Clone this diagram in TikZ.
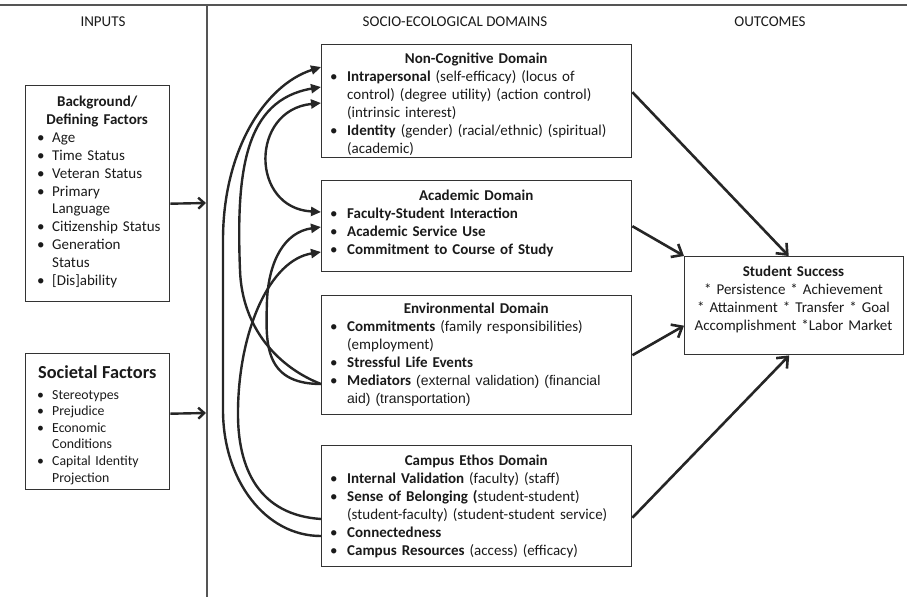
\documentclass[tikz,border=0pt]{standalone}
\usepackage{fontspec}
\setmainfont{Carlito}
\newfontfamily\arialfont{Liberation Sans}
\usetikzlibrary{arrows.meta,calc}
\definecolor{linec}{HTML}{262626}
\definecolor{boxc}{HTML}{333333}
\definecolor{txtc}{HTML}{1A1A1A}
\definecolor{rulec}{HTML}{555555}
\newcommand{\bul}{\hspace*{9pt}\makebox[17pt][l]{•}}
\newcommand{\cont}{\hspace*{26pt}}
\newcommand{\bulL}{\hspace*{12pt}\makebox[15pt][l]{•}}
\newcommand{\contL}{\hspace*{27pt}}
\begin{document}
\begin{tikzpicture}[x=1pt,y=-1pt,
  box/.style={draw=boxc, line width=1.4pt, inner sep=0pt, anchor=north west},
  txt/.style={anchor=base west, inner sep=0pt, align=left, text=txtc,
              font=\fontsize{15}{17.9}\selectfont},
  head/.style={anchor=base, inner sep=0pt, text=txtc, font=\fontsize{15}{17}\selectfont},
  curve/.style={draw=linec, line width=2.4pt, -{Triangle[length=10pt,width=9pt]}},
  dcurve/.style={draw=linec, line width=2.4pt, {Triangle[length=10pt,width=9pt]}-{Triangle[length=10pt,width=9pt]}},
  outarrow/.style={draw=linec, line width=2.6pt, -{Straight Barb[length=9pt,width=15pt]}},
  inarrow/.style={draw=linec, line width=2.4pt, -{Straight Barb[length=6pt,width=11pt]}}]
\useasboundingbox (0,0) rectangle (907,597);

% rules
\draw[rulec, line width=1.8pt] (0,5) -- (907,5);
\draw[rulec, line width=1.2pt] (207,5) -- (207,597);

% headers
\node[head] (hin) at (103,26) {INPUTS};
\node[head] (hdom) at (455,26) {SOCIO-ECOLOGICAL DOMAINS};
\node[head] (hout) at (770,26) {OUTCOMES};

% input boxes
\node[box, minimum width=144pt, minimum height=216pt] (bg) at (25,85) {};
\node[txt, text width=144pt] (bgT) at (25,106.5) {%
\makebox[144pt][c]{\bfseries Background/}\\
\makebox[144pt][c]{\bfseries Defining Factors}\\
\bulL Age\\
\bulL Time Status\\
\bulL Veteran Status\\
\bulL Primary\\
\contL Language\\
\bulL Citizenship Status\\
\bulL Generation\\
\contL Status\\
\bulL [Dis]ability};

\node[box, minimum width=144pt, minimum height=136pt] (soc) at (25,353) {};
\node[txt, text width=144pt, font=\fontsize{13.8}{16.6}\selectfont] (socT) at (25,378) {%
\makebox[144pt][c]{\fontsize{18.3}{20}\selectfont\bfseries Societal Factors}\\[4.4pt]
\bulL Stereotypes\\
\bulL Prejudice\\
\bulL Economic\\
\contL Conditions\\
\bulL Capital Identity\\
\contL Projection};

% domain boxes
\node[box, minimum width=310pt, minimum height=113pt] (noncog) at (321,44) {};
\node[txt, text width=310pt] (noncogT) at (321,63.8) {%
\makebox[310pt][c]{\bfseries Non-Cognitive Domain}\\
\bul\textbf{Intrapersonal} (self-efficacy) (locus of\\
\cont control) (degree utility) (action control)\\
\cont (intrinsic interest)\\
\bul\textbf{Identity} (gender) (racial/ethnic) (spiritual)\\
\cont (academic)};

\node[box, minimum width=310pt, minimum height=91pt] (acad) at (321,180) {};
\node[txt, text width=310pt] (acadT) at (321,200.8) {%
\makebox[310pt][c]{\bfseries Academic Domain}\\
\bul\textbf{Faculty-Student Interaction}\\
\bul\textbf{Academic Service Use}\\
\bul\textbf{Commitment to Course of Study}};

\node[box, minimum width=310pt, minimum height=119pt] (env) at (321,295) {};
\node[txt, text width=310pt] (envT) at (321,313.8) {%
\makebox[310pt][c]{\bfseries Environmental Domain}\\
\bul\textbf{Commitments} (family responsibilities)\\
\cont (employment)\\
\bul\textbf{Stressful Life Events}\\
\bul\textbf{Mediators}{\arialfont\fontsize{14}{17.9}\selectfont\ (external validation) (financial}\\
\cont{\arialfont\fontsize{14}{17.9}\selectfont aid) (transportation)}};

\node[box, minimum width=310pt, minimum height=121pt] (campus) at (321,445) {};
\node[txt, text width=310pt] (campusT) at (321,465.8) {%
\makebox[310pt][c]{\bfseries Campus Ethos Domain}\\
\bul\textbf{Internal Validation} (faculty) (staff)\\
\bul\textbf{Sense of Belonging (}student-student)\\
\cont (student-faculty) (student-student service)\\
\bul\textbf{Connectedness}\\
\bul\textbf{Campus Resources} (access) (efficacy)};

% outcome box
\node[box, minimum width=219pt, minimum height=98pt] (succ) at (684,256) {};
\node[txt, anchor=base, text width=219pt, align=center] (succT) at (793.5,276.8) {%
\textbf{Student Success}\\
{}* Persistence * Achievement\\
{}* Attainment * Transfer * Goal\\
{}Accomplishment *Labor Market};

% input arrows
\coordinate (in1) at (206,203);
\coordinate (in2) at (206,413);
\draw[inarrow] ([yshift=-10pt]bg.east) -- (in1);
\draw[inarrow] ([yshift=8pt]soc.east) -- (in2);

% outcome arrows
\draw[outarrow] ([yshift=9pt]noncog.east) -- ([xshift=-5.5pt]succ.north);
\draw[outarrow] (acad.east) -- (succ.north west);
\draw[outarrow] (env.east) -- ([yshift=-20pt]succ.west);
\draw[outarrow] ([yshift=-11.5pt]campus.east) -- ([xshift=-5pt]succ.south);

% curve end points
\coordinate (nca) at (321,67);
\coordinate (ncb) at (321,87);
\coordinate (ncc) at (321,103);
\coordinate (aca) at (321,212);
\coordinate (acb) at (321,227);
\coordinate (acc) at (321,252);
\coordinate (enm) at (321,384);
\coordinate (cea) at (321,519);
\coordinate (ceb) at (321,536);

% curves
\draw[curve] (ceb) .. controls (265,536) and (223,480) .. (223,410) -- (223,240) .. controls (223,150) and (265,85) .. (nca);
\draw[curve] (enm) .. controls (280,368) and (242,330) .. (240,270) .. controls (236,170) and (245,100) .. (ncb);
\draw[dcurve] (ncc) .. controls (250,110) and (250,208) .. (aca);
\draw[curve] (enm) .. controls (262,384) and (266,340) .. (267,300) .. controls (269,260) and (285,232) .. (acb);
\draw[curve] (cea) .. controls (260,515) and (237,470) .. (238,410) .. controls (239,330) and (270,260) .. (acc);
\end{tikzpicture}
\end{document}
